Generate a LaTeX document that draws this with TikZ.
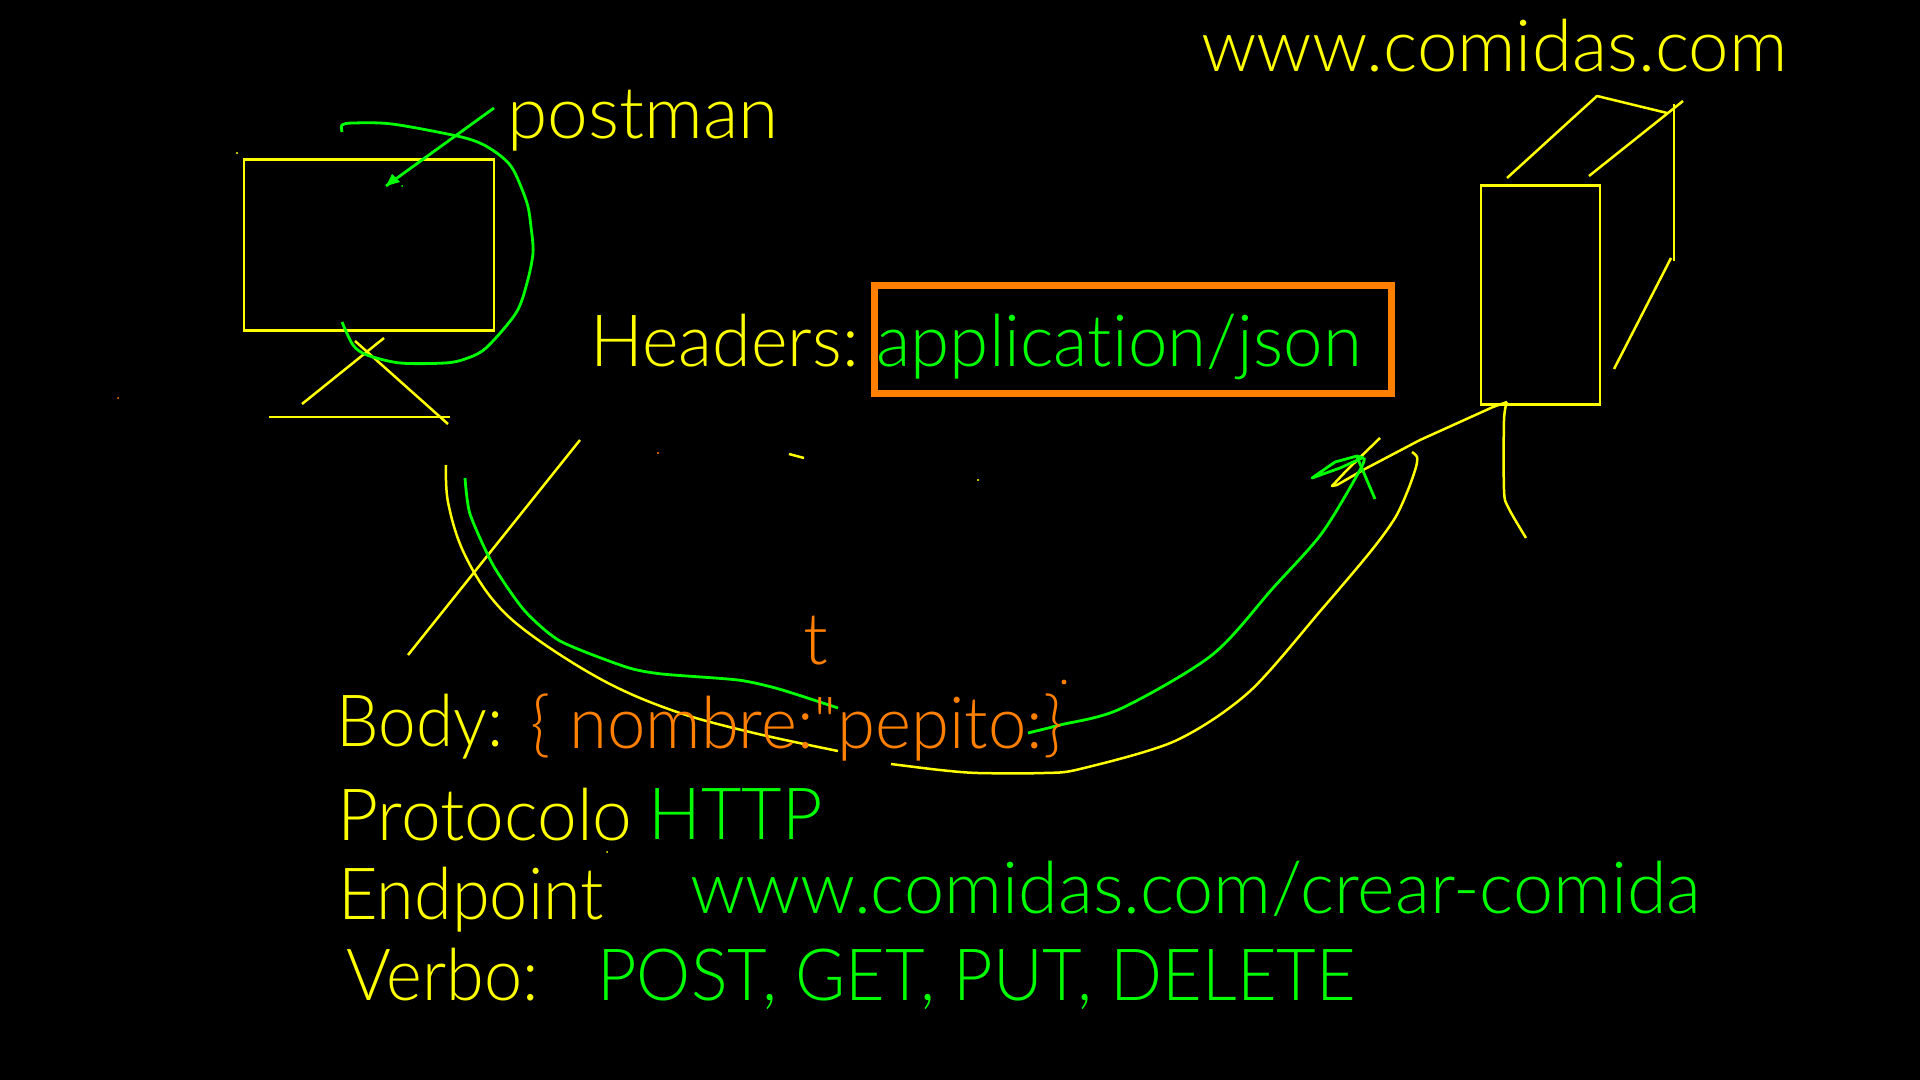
\documentclass[tikz,border=0pt]{standalone}
\usepackage{fontspec}
\newfontfamily\penfont[Ligatures=NoCommon]{Lato Light}
\usepackage{graphicx}
\usepackage{tikz}
\definecolor{penyellow}{RGB}{255,255,0}
\definecolor{pengreen}{RGB}{0,255,0}
\definecolor{penorange}{RGB}{255,128,0}
\newcommand\sq[2]{\scalebox{#1}[1]{#2}}
\tikzset{
  txt/.style={anchor=base west, inner sep=0pt, font=\penfont\fontsize{36}{40}\selectfont},
  yel/.style={draw=penyellow, line width=1.25pt, line join=round},
  grn/.style={draw=pengreen, line width=1.4pt, line join=round},
  box/.style={draw=penyellow, line width=1.3pt, anchor=north west, inner sep=0pt, outer sep=0pt}
}
\begin{document}
\begin{tikzpicture}[x=0.5pt, y=-0.5pt]
  \fill[black] (0, 0) rectangle (1920, 1080);
  \useasboundingbox (0, 0) rectangle (1920, 1080);

  % monitor
  \node[box, minimum width=125pt, minimum height=85.5pt] (monitor) at (244, 159.5) {};
  \draw[yel] (384, 338) -- (302, 404);
  \draw[yel] (355, 341) -- (448, 424);
  \draw[yel] (269, 417) -- (450, 417);

  % server
  \node[box, minimum width=59.5pt, minimum height=109.5pt] (server) at (1481, 185.5) {};
  \draw[yel] (1507, 178) -- (1597, 96) -- (1667, 113);
  \draw[yel] (1589, 176) -- (1683, 101);
  \draw[yel] (1674, 104) -- (1674, 261);
  \draw[yel] (1671, 258) -- (1614, 369);
  \draw[yel] plot[smooth, tension=.5] coordinates {(1507, 402) (1504, 420) (1504, 490) (1508, 507) (1526, 538)};

  % yellow arrow
  \draw[yel] (1507, 402) -- (1493, 407) -- (1420, 440) -- (1363, 470) -- (1337, 485) -- (1332, 486) -- (1347, 470) -- (1380, 438);
  \draw[yel] plot[smooth, tension=.6] coordinates {(446, 465) (448, 502) (463, 551) (493, 600) (534, 637) (606, 682) (677, 712) (754, 733) (838, 751)};
  \draw[yel] plot[smooth, tension=.5] coordinates {(891, 764) (940, 770) (978, 773) (1044, 773) (1080, 769) (1175, 741) (1249, 692) (1322, 609) (1371, 551) (1395, 518) (1408, 490) (1416, 467) (1417, 457) (1412, 452)};
  \draw[yel] (580, 440) -- (408, 655);
  \draw[yel] (789, 454) -- (804, 458);

  % green strokes
  \draw[grn] plot[smooth, tension=.5] coordinates {(342, 132) (342, 125) (353, 123) (392, 124) (457, 136) (482, 144) (502, 157) (514, 171) (527, 203) (531, 227) (533, 253) (527, 283) (516, 313) (486, 348) (465, 359) (445, 363) (400, 363) (367, 355) (353, 345) (342, 322)};
  \coordinate (tail) at (494, 108);
  \coordinate (tip) at (386, 186);
  \draw[grn] (tail) -- (tip);
  \fill[pengreen] (392, 174) -- (tip) -- (400, 182) -- cycle;
  \draw[grn] plot[smooth, tension=.4] coordinates {(465, 478) (470, 514) (493, 565) (524, 610) (560, 641) (626, 667) (662, 674) (738, 680) (779, 689) (838, 708)};
  \draw[grn] plot[smooth, tension=.5] coordinates {(1028, 733) (1060, 725) (1120, 709) (1212, 655) (1273, 588) (1322, 533) (1360, 470) (1364, 458)};
  \draw[grn] (1364, 458) -- (1357, 456) -- (1335, 462) -- (1312, 478) -- (1340, 468) -- (1362, 458);
  \draw[grn] (1357, 457) -- (1375, 499);

  % orange box
  \node[draw=penorange, line width=3.5pt, anchor=north west, inner sep=0pt, outer sep=0pt, minimum width=258.5pt, minimum height=54pt] (headerbox) at (874.5, 285.5) {};

  % texts
  \node[txt, text=penyellow] (site) at (1201, 72) {\sq{1.008}{www.comidas.com}};
  \node[txt, text=penyellow] (postman) at (507, 139) {\sq{1.014}{postman}};
  \node[txt, text=penyellow] (headers) at (590, 366) {\sq{.973}{Headers:}};
  \node[txt, text=pengreen] (json) at (876, 366) {\sq{.985}{application/json}};
  \node[txt, text=penorange] (letter) at (803, 664) {t};
  \node[txt, text=penyellow] (body) at (336, 746) {\sq{.937}{Body:}};
  \node[txt, text=penorange] (data) at (530, 748) {\sq{.956}{\{ nombre:"pepito:\}}};
  \node[txt, text=penyellow] (protocolo) at (337, 840) {\sq{.99}{Protocolo}};
  \node[txt, text=pengreen] (http) at (648, 839) {\sq{.97}{HTTP}};
  \node[txt, text=penyellow] (endpoint) at (338, 919) {\sq{.95}{Endpoint}};
  \node[txt, text=pengreen] (url) at (690, 913) {www.comidas.com/crear-comida};
  \node[txt, text=penyellow] (verbo) at (346, 1000) {\sq{.95}{Verbo:}};
  \node[txt, text=pengreen] (verbs) at (597, 1000) {\sq{.95}{POST, GET, PUT, DELETE}};

  % stray pen dots
  \fill[penyellow] (237, 153) circle (0.6pt);
  \fill[pengreen] (402, 186) circle (0.5pt);
  \fill[penorange] (118, 398) circle (0.5pt);
  \fill[penorange] (658, 453) circle (0.6pt);
  \fill[penyellow] (978, 480) circle (0.6pt);
  \fill[penorange] (1064, 682) circle (1.2pt);
  \fill[penyellow] (607, 852) circle (0.5pt);
\end{tikzpicture}
\end{document}
